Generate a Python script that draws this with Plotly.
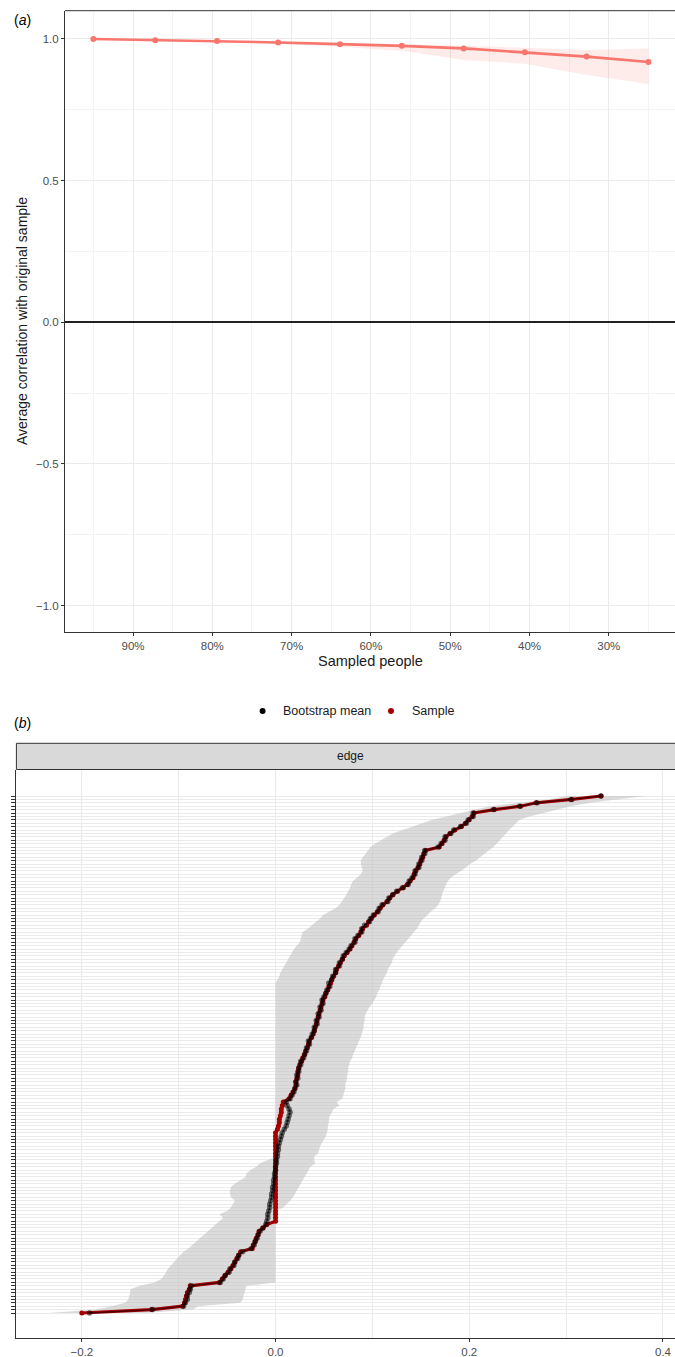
import plotly.graph_objects as go

W, H = 675, 1357

# ---------------- Panel (a) data ----------------
sampled_pct = [95.0, 87.2, 79.4, 71.7, 63.9, 56.1, 48.3, 40.6, 32.8, 25.0]
avg_corr = [0.999, 0.995, 0.992, 0.987, 0.981, 0.975, 0.966, 0.952, 0.937, 0.918]
corr_hi = [1.000, 0.997, 0.994, 0.990, 0.985, 0.981, 0.975, 0.968, 0.960, 0.966]
corr_lo = [0.998, 0.993, 0.989, 0.982, 0.972, 0.958, 0.925, 0.912, 0.872, 0.840]
x_ticks_a = [90, 80, 70, 60, 50, 40, 30]
x_ticklabels_a = ["90%", "80%", "70%", "60%", "50%", "40%", "30%"]
x_minor_a = [95, 85, 75, 65, 55, 45, 35, 25]
y_ticks_a = [-1.0, -0.5, 0.0, 0.5, 1.0]
y_ticklabels_a = ["\u22121.0", "\u22120.5", "0.0", "0.5", "1.0"]
y_minor_a = [-0.75, -0.25, 0.25, 0.75]

# ---------------- Panel (b) data (edges ordered by sample value, bottom -> top) ----------------
edge_sample = [
    -0.200, -0.128, -0.096, -0.094, -0.093, -0.092, -0.091, -0.089, -0.088, -0.058,
    -0.055, -0.052, -0.049, -0.046, -0.044, -0.042, -0.040, -0.038, -0.036, -0.024,
    -0.023, -0.021, -0.020, -0.018, -0.017, -0.013, -0.009, 0.000, 0.000, 0.000,
    0.000, 0.000, 0.000, 0.000, 0.000, 0.000, 0.000, 0.000, 0.000, 0.000,
    0.000, 0.000, 0.000, 0.000, 0.000, 0.000, 0.000, 0.000, 0.000, 0.000,
    0.000, 0.000, 0.000, 0.000, 0.002, 0.003, 0.004, 0.004, 0.005, 0.006,
    0.006, 0.007, 0.008, 0.014, 0.016, 0.018, 0.020, 0.021, 0.021, 0.022,
    0.023, 0.023, 0.024, 0.025, 0.027, 0.028, 0.030, 0.031, 0.033, 0.034,
    0.035, 0.037, 0.039, 0.040, 0.041, 0.042, 0.043, 0.044, 0.045, 0.046,
    0.047, 0.048, 0.049, 0.051, 0.052, 0.054, 0.055, 0.057, 0.058, 0.060,
    0.062, 0.063, 0.065, 0.067, 0.069, 0.071, 0.074, 0.077, 0.079, 0.081,
    0.083, 0.086, 0.088, 0.090, 0.094, 0.096, 0.099, 0.102, 0.105, 0.108,
    0.111, 0.115, 0.118, 0.121, 0.126, 0.132, 0.136, 0.139, 0.142, 0.143,
    0.145, 0.147, 0.149, 0.150, 0.152, 0.153, 0.155, 0.169, 0.172, 0.174,
    0.176, 0.180, 0.185, 0.192, 0.196, 0.200, 0.203, 0.205, 0.226, 0.253,
    0.269, 0.306, 0.336,
]
edge_boot_mean = [
    -0.192, -0.127, -0.095, -0.093, -0.091, -0.091, -0.089, -0.088, -0.087, -0.057,
    -0.054, -0.052, -0.048, -0.047, -0.043, -0.042, -0.039, -0.038, -0.034, -0.025,
    -0.022, -0.021, -0.019, -0.018, -0.016, -0.013, -0.010, -0.009, -0.008, -0.008,
    -0.007, -0.006, -0.006, -0.005, -0.004, -0.004, -0.003, -0.003, -0.002, -0.002,
    -0.001, -0.001, 0.000, 0.000, 0.001, 0.001, 0.002, 0.002, 0.003, 0.003,
    0.004, 0.005, 0.006, 0.007, 0.009, 0.011, 0.012, 0.013, 0.014, 0.015,
    0.014, 0.012, 0.011, 0.015, 0.017, 0.019, 0.020, 0.022, 0.021, 0.023,
    0.022, 0.024, 0.024, 0.026, 0.026, 0.029, 0.030, 0.032, 0.032, 0.035,
    0.034, 0.037, 0.038, 0.040, 0.040, 0.043, 0.042, 0.045, 0.044, 0.047,
    0.046, 0.049, 0.048, 0.050, 0.052, 0.053, 0.056, 0.055, 0.058, 0.059,
    0.062, 0.062, 0.066, 0.066, 0.069, 0.070, 0.073, 0.076, 0.078, 0.082,
    0.082, 0.085, 0.089, 0.089, 0.092, 0.097, 0.098, 0.101, 0.106, 0.107,
    0.110, 0.116, 0.117, 0.121, 0.125, 0.131, 0.137, 0.138, 0.141, 0.144,
    0.144, 0.148, 0.148, 0.151, 0.151, 0.154, 0.154, 0.168, 0.171, 0.175,
    0.175, 0.181, 0.184, 0.191, 0.197, 0.199, 0.204, 0.204, 0.225, 0.252,
    0.270, 0.305, 0.336,
]
edge_ci_lo = [
    -0.235, -0.185, -0.170, -0.155, -0.152, -0.151, -0.150, -0.150, -0.140, -0.125,
    -0.118, -0.115, -0.113, -0.111, -0.108, -0.105, -0.102, -0.098, -0.095, -0.090,
    -0.086, -0.082, -0.078, -0.074, -0.070, -0.066, -0.062, -0.058, -0.054, -0.058,
    -0.050, -0.046, -0.044, -0.042, -0.046, -0.047, -0.047, -0.046, -0.042, -0.036,
    -0.031, -0.030, -0.026, -0.020, -0.016, -0.008, 0.000, 0.000, 0.000, 0.000,
    0.000, 0.000, 0.000, 0.000, 0.000, 0.000, 0.000, 0.000, 0.000, 0.000,
    0.000, 0.000, 0.000, 0.000, 0.000, 0.000, 0.000, 0.000, 0.000, 0.000,
    0.000, 0.000, 0.000, 0.000, 0.000, 0.000, 0.000, 0.000, 0.000, 0.000,
    0.000, 0.000, 0.000, 0.000, 0.000, 0.000, 0.000, 0.000, 0.000, 0.000,
    0.000, 0.000, 0.000, 0.000, 0.000, 0.000, 0.000, 0.000, 0.002, 0.004,
    0.005, 0.007, 0.009, 0.011, 0.013, 0.015, 0.017, 0.019, 0.022, 0.025,
    0.026, 0.027, 0.028, 0.033, 0.038, 0.042, 0.046, 0.049, 0.055, 0.062,
    0.066, 0.069, 0.071, 0.073, 0.075, 0.077, 0.078, 0.080, 0.084, 0.088,
    0.090, 0.089, 0.088, 0.088, 0.090, 0.093, 0.096, 0.098, 0.103, 0.109,
    0.115, 0.121, 0.131, 0.142, 0.152, 0.162, 0.176, 0.190, 0.204, 0.221,
    0.250, 0.283, 0.300,
]
edge_ci_hi = [
    -0.135, -0.085, -0.080, -0.036, -0.034, -0.033, -0.032, -0.031, -0.030, 0.000,
    0.000, 0.000, 0.000, 0.000, 0.000, 0.000, 0.000, 0.000, 0.000, 0.000,
    0.000, 0.000, 0.000, 0.000, 0.000, 0.000, 0.000, 0.000, 0.000, 0.000,
    0.000, 0.008, 0.012, 0.015, 0.018, 0.020, 0.022, 0.024, 0.026, 0.028,
    0.030, 0.032, 0.034, 0.036, 0.041, 0.040, 0.040, 0.044, 0.045, 0.046,
    0.048, 0.050, 0.052, 0.053, 0.054, 0.054, 0.055, 0.055, 0.056, 0.058,
    0.060, 0.066, 0.063, 0.069, 0.070, 0.071, 0.072, 0.072, 0.073, 0.074,
    0.074, 0.075, 0.075, 0.076, 0.077, 0.079, 0.080, 0.082, 0.083, 0.085,
    0.086, 0.088, 0.089, 0.090, 0.091, 0.091, 0.092, 0.092, 0.093, 0.095,
    0.097, 0.100, 0.102, 0.104, 0.105, 0.107, 0.108, 0.110, 0.111, 0.113,
    0.115, 0.116, 0.118, 0.120, 0.121, 0.123, 0.125, 0.127, 0.130, 0.134,
    0.137, 0.140, 0.143, 0.146, 0.148, 0.150, 0.153, 0.156, 0.160, 0.165,
    0.168, 0.170, 0.171, 0.172, 0.173, 0.175, 0.176, 0.178, 0.181, 0.186,
    0.192, 0.197, 0.201, 0.207, 0.211, 0.216, 0.220, 0.225, 0.228, 0.231,
    0.235, 0.238, 0.241, 0.245, 0.248, 0.252, 0.262, 0.275, 0.290, 0.305,
    0.325, 0.352, 0.383,
]
x_ticks_b = [-0.2, 0.0, 0.2, 0.4]
x_ticklabels_b = ["\u22120.2", "0.0", "0.2", "0.4"]
x_minor_b = [-0.1, 0.1, 0.3]

n_edges = len(edge_sample)
assert len(edge_boot_mean) == n_edges and len(edge_ci_lo) == n_edges and len(edge_ci_hi) == n_edges, (
    n_edges, len(edge_boot_mean), len(edge_ci_lo), len(edge_ci_hi))
edge_rows = list(range(1, n_edges + 1))

# ---------------- helpers (pixel -> paper) ----------------
def px(x):
    return x / W


def py(y):
    return 1 - y / H


FONT = "Liberation Sans, Arial, Helvetica, sans-serif"
TXT = "#1A1A1A"
TICK = "#4D4D4D"
GRID = "#EBEBEB"
GRIDMINOR = "#F3F3F3"
LINE = "#333333"

RED_A = "#F8766D"
RED_B = "#A40000"

fig = go.Figure()

# Panel (a)
fig.add_trace(go.Scatter(
    x=sampled_pct + sampled_pct[::-1], y=corr_hi + corr_lo[::-1],
    fill="toself", fillcolor="rgba(248,118,109,0.14)", line=dict(width=0),
    mode="lines", hoverinfo="skip", showlegend=False, xaxis="x", yaxis="y"))
fig.add_trace(go.Scatter(
    x=sampled_pct, y=avg_corr, mode="lines+markers",
    line=dict(color=RED_A, width=2.6), marker=dict(color=RED_A, size=6),
    showlegend=False, xaxis="x", yaxis="y"))

# Panel (b)
fig.add_trace(go.Scatter(
    x=edge_ci_lo + edge_ci_hi[::-1], y=edge_rows + edge_rows[::-1],
    fill="toself", fillcolor="rgba(190,190,190,0.55)", line=dict(width=0),
    mode="lines", hoverinfo="skip", showlegend=False, xaxis="x2", yaxis="y2"))
fig.add_trace(go.Scatter(
    x=edge_sample, y=edge_rows, mode="lines+markers", name="Sample",
    line=dict(color=RED_B, width=3.2), marker=dict(color=RED_B, size=5),
    showlegend=False, xaxis="x2", yaxis="y2"))
fig.add_trace(go.Scatter(
    x=edge_boot_mean, y=edge_rows, mode="lines+markers", name="Bootstrap mean",
    line=dict(color="rgba(0,0,0,0.55)", width=1.4),
    marker=dict(color="rgba(0,0,0,0.55)", size=5.5),
    showlegend=False, xaxis="x2", yaxis="y2"))

# geometry (pixels)
A_L, A_T, A_B = 65.0, 10.7, 632.0
B_L, B_T, B_B = 16.4, 769.5, 1337.7
STRIP_T = 743.3

axis_common = dict(
    showline=True, linecolor=LINE, linewidth=1, ticks="outside", ticklen=3,
    tickcolor=LINE, tickwidth=1, showgrid=True, gridcolor=GRID, gridwidth=1,
    tickfont=dict(family=FONT, size=11.5, color=TICK), fixedrange=True,
)

fig.update_layout(
    width=W, height=H, margin=dict(l=0, r=0, t=0, b=0),
    paper_bgcolor="white", plot_bgcolor="white", showlegend=False,
    font=dict(family=FONT, color=TXT),
    xaxis=dict(domain=[px(A_L), 1.0], range=[98.58, 21.65], anchor="y",
               tickvals=x_ticks_a, ticktext=x_ticklabels_a, zeroline=False,
               minor=dict(tickvals=x_minor_a, showgrid=True, gridcolor=GRIDMINOR, ticks=""),
               **axis_common),
    yaxis=dict(domain=[py(A_B), py(A_T)], range=[-1.093, 1.099], anchor="x",
               tickvals=y_ticks_a, ticktext=y_ticklabels_a,
               zeroline=True, zerolinecolor="#222222", zerolinewidth=1.6,
               minor=dict(tickvals=y_minor_a, showgrid=True, gridcolor=GRIDMINOR, ticks=""),
               **axis_common),
    xaxis2=dict(domain=[px(B_L), 1.0], range=[-0.2675, 0.4124], anchor="y2",
                tickvals=x_ticks_b, ticktext=x_ticklabels_b, zeroline=False,
                minor=dict(tickvals=x_minor_b, showgrid=True, gridcolor=GRID, ticks=""),
                **axis_common),
    yaxis2=dict(domain=[py(B_B), py(B_T)], range=[-6.26, 160.79], anchor="x2",
                tickvals=edge_rows, showticklabels=False, zeroline=False,
                **{k: v for k, v in axis_common.items() if k not in ("ticklen",)},
                ticklen=4),
)

shapes = [
    # panel (a) border (top)
    dict(type="line", xref="paper", yref="paper", x0=px(A_L), x1=1.02, y0=py(A_T), y1=py(A_T),
         line=dict(color=LINE, width=1), layer="above"),
    # strip for panel (b)
    dict(type="rect", xref="paper", yref="paper", x0=px(B_L), x1=1.02, y0=py(B_T), y1=py(STRIP_T),
         fillcolor="#D9D9D9", line=dict(color=LINE, width=1), layer="above"),
    # legend dots
    dict(type="circle", xref="paper", yref="paper", x0=px(259.6), x1=px(265.6),
         y0=py(714), y1=py(708), fillcolor="black", line=dict(width=0)),
    dict(type="circle", xref="paper", yref="paper", x0=px(388), x1=px(394),
         y0=py(714), y1=py(708), fillcolor=RED_B, line=dict(width=0)),
]
fig.update_layout(shapes=shapes)

annotations = [
    dict(text="(<i>a</i>)", x=px(12), y=py(20), xanchor="left", yanchor="middle",
         font=dict(size=14, color="black", family=FONT)),
    dict(text="(<i>b</i>)", x=px(12), y=py(723), xanchor="left", yanchor="middle",
         font=dict(size=14, color="black", family=FONT)),
    dict(text="Average correlation with original sample", textangle=-90,
         x=px(22), y=py(321), xanchor="center", yanchor="middle",
         font=dict(size=14, color=TXT, family=FONT)),
    dict(text="Sampled people", x=px(370.5), y=py(661.5), xanchor="center", yanchor="middle",
         font=dict(size=14.5, color=TXT, family=FONT)),
    dict(text="Bootstrap mean", x=px(281), y=py(711), xanchor="left", yanchor="middle",
         font=dict(size=12.5, color=TXT, family=FONT)),
    dict(text="Sample", x=px(410), y=py(711), xanchor="left", yanchor="middle",
         font=dict(size=12.5, color=TXT, family=FONT)),
    dict(text="edge", x=px(350), y=py(756.4), xanchor="center", yanchor="middle",
         font=dict(size=12, color=TXT, family=FONT)),
]
for a in annotations:
    a.update(xref="paper", yref="paper", showarrow=False)
fig.update_layout(annotations=annotations)

fig.write_html(
    "out.html",
    config={"displayModeBar": False, "responsive": False},
    post_script="document.body.style.margin='0';document.body.style.overflow='hidden';",
)
